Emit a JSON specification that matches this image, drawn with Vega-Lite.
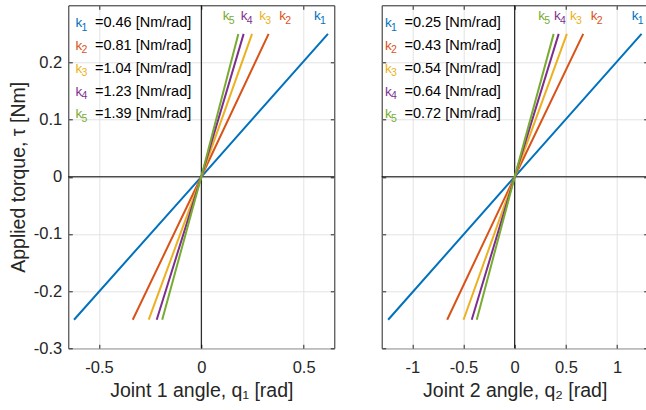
{
  "$schema": "https://vega.github.io/schema/vega-lite/v6.json",
  "autosize": {"type": "none"},
  "padding": {"left": 68.3, "top": 5.3, "right": 577.7, "bottom": 404.7},
  "background": "white",
  "bounds": "flush",
  "spacing": 47.4,
  "config": {
    "font": "Liberation Sans",
    "view": {"stroke": "#262626", "strokeWidth": 1},
    "axis": {
      "labelFont": "Liberation Sans",
      "labelFontSize": 16.5,
      "labelColor": "#262626",
      "titleFont": "Liberation Sans",
      "titleFontSize": 19.5,
      "titleFontWeight": "normal",
      "titleColor": "#262626",
      "domain": false,
      "gridColor": "#e3e3e3",
      "gridWidth": 1,
      "tickColor": "#262626",
      "tickSize": -4,
      "tickWidth": 1
    }
  },
  "datasets": {
    "lines": [
      {"p": 1, "s": "k1", "q": -0.622, "t": -0.25}, {"p": 1, "s": "k1", "q": 0, "t": 0}, {"p": 1, "s": "k1", "q": 0.619, "t": 0.25},
      {"p": 1, "s": "k2", "q": -0.335, "t": -0.25}, {"p": 1, "s": "k2", "q": 0, "t": 0}, {"p": 1, "s": "k2", "q": 0.329, "t": 0.25},
      {"p": 1, "s": "k3", "q": -0.257, "t": -0.25}, {"p": 1, "s": "k3", "q": 0, "t": 0}, {"p": 1, "s": "k3", "q": 0.248, "t": 0.25},
      {"p": 1, "s": "k4", "q": -0.218, "t": -0.25}, {"p": 1, "s": "k4", "q": 0, "t": 0}, {"p": 1, "s": "k4", "q": 0.207, "t": 0.25},
      {"p": 1, "s": "k5", "q": -0.191, "t": -0.25}, {"p": 1, "s": "k5", "q": 0, "t": 0}, {"p": 1, "s": "k5", "q": 0.181, "t": 0.25},
      {"p": 2, "s": "k1", "q": -1.237, "t": -0.25}, {"p": 2, "s": "k1", "q": 0, "t": 0}, {"p": 2, "s": "k1", "q": 1.24, "t": 0.25},
      {"p": 2, "s": "k2", "q": -0.66, "t": -0.25}, {"p": 2, "s": "k2", "q": 0, "t": 0}, {"p": 2, "s": "k2", "q": 0.67, "t": 0.25},
      {"p": 2, "s": "k3", "q": -0.5, "t": -0.25}, {"p": 2, "s": "k3", "q": 0, "t": 0}, {"p": 2, "s": "k3", "q": 0.51, "t": 0.25},
      {"p": 2, "s": "k4", "q": -0.42, "t": -0.25}, {"p": 2, "s": "k4", "q": 0, "t": 0}, {"p": 2, "s": "k4", "q": 0.43, "t": 0.25},
      {"p": 2, "s": "k5", "q": -0.371, "t": -0.25}, {"p": 2, "s": "k5", "q": 0, "t": 0}, {"p": 2, "s": "k5", "q": 0.381, "t": 0.25}
    ],
    "labels": [
      {"p": 1, "s": "k1", "sub": "1", "x": -0.615, "y": 0.262, "val": "=0.46 [Nm/rad]"},
      {"p": 1, "s": "k2", "sub": "2", "x": -0.615, "y": 0.222, "val": "=0.81 [Nm/rad]"},
      {"p": 1, "s": "k3", "sub": "3", "x": -0.615, "y": 0.182, "val": "=1.04 [Nm/rad]"},
      {"p": 1, "s": "k4", "sub": "4", "x": -0.615, "y": 0.142, "val": "=1.23 [Nm/rad]"},
      {"p": 1, "s": "k5", "sub": "5", "x": -0.615, "y": 0.102, "val": "=1.39 [Nm/rad]"},
      {"p": 1, "s": "k5", "sub": "5", "x": 0.105, "y": 0.274, "val": ""},
      {"p": 1, "s": "k4", "sub": "4", "x": 0.193, "y": 0.274, "val": ""},
      {"p": 1, "s": "k3", "sub": "3", "x": 0.283, "y": 0.274, "val": ""},
      {"p": 1, "s": "k2", "sub": "2", "x": 0.381, "y": 0.274, "val": ""},
      {"p": 1, "s": "k1", "sub": "1", "x": 0.551, "y": 0.274, "val": ""},
      {"p": 2, "s": "k1", "sub": "1", "x": -1.268, "y": 0.262, "val": "=0.25 [Nm/rad]"},
      {"p": 2, "s": "k2", "sub": "2", "x": -1.268, "y": 0.222, "val": "=0.43 [Nm/rad]"},
      {"p": 2, "s": "k3", "sub": "3", "x": -1.268, "y": 0.182, "val": "=0.54 [Nm/rad]"},
      {"p": 2, "s": "k4", "sub": "4", "x": -1.268, "y": 0.142, "val": "=0.64 [Nm/rad]"},
      {"p": 2, "s": "k5", "sub": "5", "x": -1.268, "y": 0.102, "val": "=0.72 [Nm/rad]"},
      {"p": 2, "s": "k5", "sub": "5", "x": 0.231, "y": 0.274, "val": ""},
      {"p": 2, "s": "k4", "sub": "4", "x": 0.384, "y": 0.274, "val": ""},
      {"p": 2, "s": "k3", "sub": "3", "x": 0.54, "y": 0.274, "val": ""},
      {"p": 2, "s": "k2", "sub": "2", "x": 0.743, "y": 0.274, "val": ""},
      {"p": 2, "s": "k1", "sub": "1", "x": 1.144, "y": 0.274, "val": ""}
    ]
  },
  "hconcat": [
    {
      "width": 266,
      "height": 343,
      "layer": [
        {
          "data": {"values": [{}]},
          "mark": {"type": "rule", "color": "#000000", "strokeWidth": 1},
          "encoding": {
            "x": {"datum": 0, "type": "quantitative", "scale": {"domain": [-0.65, 0.65], "nice": false, "zero": false},
                  "axis": {"orient": "top", "labels": false, "grid": true, "title": null, "values": [-0.5, 0, 0.5]}}
          }
        },
        {
          "data": {"values": [{}]},
          "mark": {"type": "rule", "color": "#000000", "strokeWidth": 1},
          "encoding": {
            "y": {"datum": 0, "type": "quantitative", "scale": {"domain": [-0.3, 0.3], "nice": false, "zero": false},
                  "axis": {"orient": "right", "labels": false, "grid": true, "title": null, "values": [-0.3, -0.2, -0.1, 0, 0.1, 0.2]}}
          }
        },
        {
          "data": {"name": "lines"},
          "transform": [{"filter": "datum.p == 1"}],
          "mark": {"type": "line", "strokeWidth": 2},
          "encoding": {
            "x": {"field": "q", "type": "quantitative", "scale": {"domain": [-0.65, 0.65], "nice": false, "zero": false},
                  "axis": {"orient": "bottom", "values": [-0.5, 0, 0.5], "grid": false, "labelPadding": 15.5, "labelExpr": "replace(format(datum.value, '~g'), '−', '-')",
                           "title": "Joint 1 angle, q₁ [rad]", "titleY": 48.5, "titleBaseline": "alphabetic"}},
            "y": {"field": "t", "type": "quantitative", "scale": {"domain": [-0.3, 0.3], "nice": false, "zero": false},
                  "axis": {"orient": "left", "values": [-0.3, -0.2, -0.1, 0, 0.1, 0.2], "grid": false, "labelPadding": 10.6, "labelExpr": "replace(format(datum.value, '~g'), '−', '-')",
                           "title": "Applied torque, τ [Nm]", "titleX": -44.3, "titleY": 171.5, "titleBaseline": "alphabetic"}},
            "color": {"field": "s", "type": "nominal", "scale": {"domain": ["k1", "k2", "k3", "k4", "k5"], "range": ["#0072BD", "#D95319", "#EDB120", "#7E2F8E", "#77AC30"]}, "legend": null},
            "detail": {"field": "s"}
          }
        },
        {
          "data": {"name": "labels"},
          "transform": [{"filter": "datum.p == 1"}],
          "mark": {"type": "text", "align": "left", "baseline": "alphabetic", "fontSize": 13.5, "font": "Liberation Sans"},
          "encoding": {
            "x": {"field": "x", "type": "quantitative", "axis": null},
            "y": {"field": "y", "type": "quantitative", "axis": null},
            "text": {"value": "k"},
            "color": {"field": "s", "type": "nominal", "legend": null}
          }
        },
        {
          "data": {"name": "labels"},
          "transform": [{"filter": "datum.p == 1"}],
          "mark": {"type": "text", "align": "left", "baseline": "alphabetic", "fontSize": 10.5, "dx": 6, "dy": 3.5, "font": "Liberation Sans"},
          "encoding": {
            "x": {"field": "x", "type": "quantitative", "axis": null},
            "y": {"field": "y", "type": "quantitative", "axis": null},
            "text": {"field": "sub"},
            "color": {"field": "s", "type": "nominal", "legend": null}
          }
        },
        {
          "data": {"name": "labels"},
          "transform": [{"filter": "datum.p == 1 && datum.val != ''"}],
          "mark": {"type": "text", "align": "left", "baseline": "alphabetic", "fontSize": 14.5, "dx": 19.5, "color": "#000000", "font": "Liberation Sans"},
          "encoding": {
            "x": {"field": "x", "type": "quantitative", "axis": null},
            "y": {"field": "y", "type": "quantitative", "axis": null},
            "text": {"field": "val"}
          }
        }
      ]
    },
    {
      "width": 266,
      "height": 343,
      "layer": [
        {
          "data": {"values": [{}]},
          "mark": {"type": "rule", "color": "#000000", "strokeWidth": 1},
          "encoding": {
            "x": {"datum": 0, "type": "quantitative", "scale": {"domain": [-1.3, 1.3], "nice": false, "zero": false},
                  "axis": {"orient": "top", "labels": false, "grid": true, "title": null, "values": [-1, -0.5, 0, 0.5, 1]}}
          }
        },
        {
          "data": {"values": [{}]},
          "mark": {"type": "rule", "color": "#000000", "strokeWidth": 1},
          "encoding": {
            "y": {"datum": 0, "type": "quantitative", "scale": {"domain": [-0.3, 0.3], "nice": false, "zero": false},
                  "axis": {"orient": "right", "labels": false, "grid": true, "title": null, "values": [-0.3, -0.2, -0.1, 0, 0.1, 0.2]}}
          }
        },
        {
          "data": {"name": "lines"},
          "transform": [{"filter": "datum.p == 2"}],
          "mark": {"type": "line", "strokeWidth": 2},
          "encoding": {
            "x": {"field": "q", "type": "quantitative", "scale": {"domain": [-1.3, 1.3], "nice": false, "zero": false},
                  "axis": {"orient": "bottom", "values": [-1, -0.5, 0, 0.5, 1], "grid": false, "labelPadding": 15.5, "labelExpr": "replace(format(datum.value, '~g'), '−', '-')",
                           "title": "Joint 2 angle, q₂ [rad]", "titleY": 48.5, "titleBaseline": "alphabetic"}},
            "y": {"field": "t", "type": "quantitative", "scale": {"domain": [-0.3, 0.3], "nice": false, "zero": false},
                  "axis": {"orient": "left", "values": [-0.3, -0.2, -0.1, 0, 0.1, 0.2], "grid": false, "labels": false, "title": null}},
            "color": {"field": "s", "type": "nominal", "scale": {"domain": ["k1", "k2", "k3", "k4", "k5"], "range": ["#0072BD", "#D95319", "#EDB120", "#7E2F8E", "#77AC30"]}, "legend": null},
            "detail": {"field": "s"}
          }
        },
        {
          "data": {"name": "labels"},
          "transform": [{"filter": "datum.p == 2"}],
          "mark": {"type": "text", "align": "left", "baseline": "alphabetic", "fontSize": 13.5, "font": "Liberation Sans"},
          "encoding": {
            "x": {"field": "x", "type": "quantitative", "axis": null},
            "y": {"field": "y", "type": "quantitative", "axis": null},
            "text": {"value": "k"},
            "color": {"field": "s", "type": "nominal", "legend": null}
          }
        },
        {
          "data": {"name": "labels"},
          "transform": [{"filter": "datum.p == 2"}],
          "mark": {"type": "text", "align": "left", "baseline": "alphabetic", "fontSize": 10.5, "dx": 6, "dy": 3.5, "font": "Liberation Sans"},
          "encoding": {
            "x": {"field": "x", "type": "quantitative", "axis": null},
            "y": {"field": "y", "type": "quantitative", "axis": null},
            "text": {"field": "sub"},
            "color": {"field": "s", "type": "nominal", "legend": null}
          }
        },
        {
          "data": {"name": "labels"},
          "transform": [{"filter": "datum.p == 2 && datum.val != ''"}],
          "mark": {"type": "text", "align": "left", "baseline": "alphabetic", "fontSize": 14.5, "dx": 19.5, "color": "#000000", "font": "Liberation Sans"},
          "encoding": {
            "x": {"field": "x", "type": "quantitative", "axis": null},
            "y": {"field": "y", "type": "quantitative", "axis": null},
            "text": {"field": "val"}
          }
        }
      ]
    }
  ]
}
